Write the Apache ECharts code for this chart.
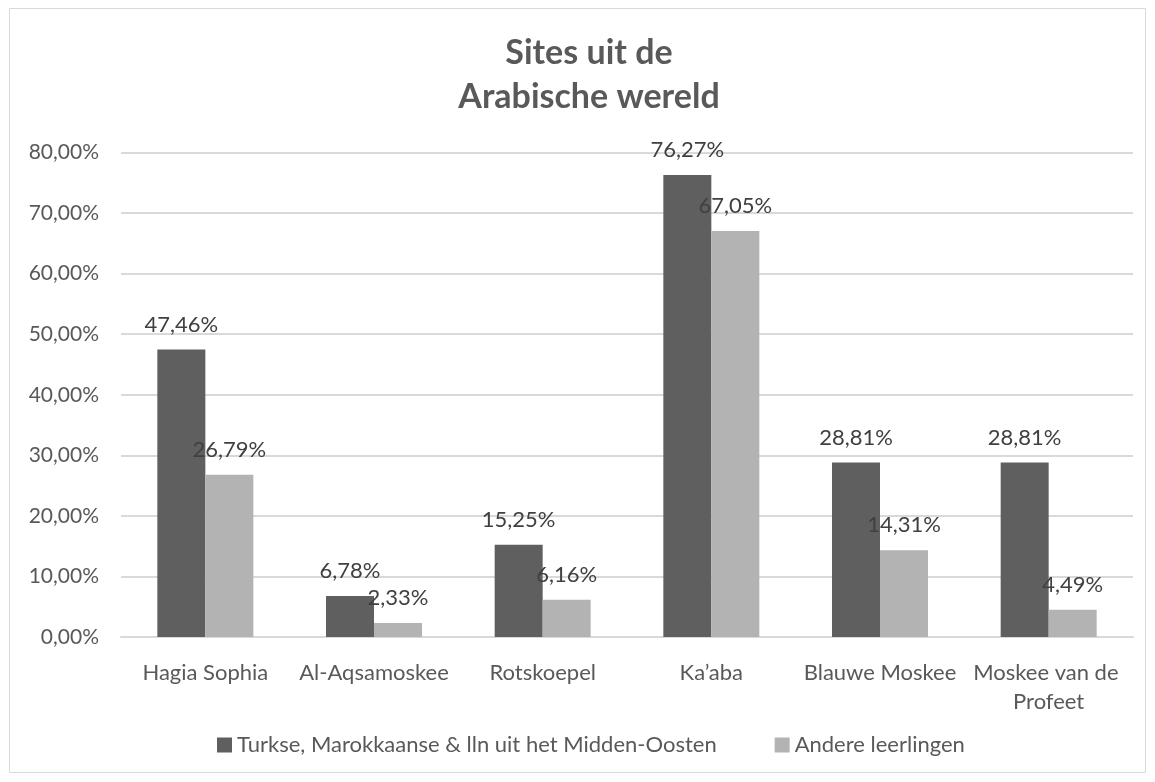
<!DOCTYPE html>
<html>
<head>
<meta charset="utf-8">
<script src="https://cdn.jsdelivr.net/npm/echarts@6/dist/echarts.min.js"></script>
<style>
  html, body { margin: 0; padding: 0; background: #fff; }
  #chart { width: 1155px; height: 782px; }
</style>
</head>
<body>
<div id="chart"></div>
<script>
// data
const categories = ['Hagia Sophia', 'Al-Aqsamoskee', 'Rotskoepel', 'Ka\u2019aba', 'Blauwe Moskee', 'Moskee van de Profeet']
const seriesNames = ['Turkse, Marokkaanse & lln uit het Midden-Oosten', 'Andere leerlingen']
const turksMarokkaans = [47.46, 6.78, 15.25, 76.27, 28.81, 28.81]
const andereLeerlingen = [26.79, 2.33, 6.16, 67.05, 14.31, 4.49]
const yTicks = [0, 10, 20, 30, 40, 50, 60, 70, 80]

const FONT = 'Lato'
const TEXT = '#595959'
const pct = v => v.toFixed(2).replace('.', ',') + '%'

const chart = echarts.init(document.getElementById('chart'))

const barLabel = {
    show: true,
    position: 'top',
    distance: 14,
    color: '#404040',
    fontFamily: FONT,
    fontSize: 22,
    formatter: p => pct(p.value)
}

const option = {
    animation: false,
    textStyle: { fontFamily: FONT },
    title: {
        text: 'Sites uit de\nArabische wereld',
        left: 584,
        textAlign: 'center',
        top: 26,
        textStyle: {
            color: TEXT,
            fontFamily: FONT,
            fontSize: 34,
            fontWeight: 'bold',
            lineHeight: 44
        }
    },
    graphic: [{
        type: 'rect',
        shape: { x: 9.5, y: 8.5, width: 1136, height: 764 },
        style: { fill: 'none', stroke: '#d9d9d9', lineWidth: 1 },
        silent: true
    }],
    grid: {
        top: 152.5,
        left: 121,
        right: 22,
        bottom: 145
    },
    legend: {
        bottom: 21,
        left: 212,
        itemWidth: 15,
        itemHeight: 15,
        itemGap: 58,
        icon: 'rect',
        textStyle: { color: TEXT, fontFamily: FONT, fontSize: 22 },
        data: seriesNames
    },
    xAxis: {
        type: 'category',
        data: categories,
        axisLine: { show: true, lineStyle: { color: '#d9d9d9', width: 2 } },
        axisTick: { show: false },
        axisLabel: {
            color: TEXT,
            fontFamily: FONT,
            fontSize: 22,
            margin: 21,
            lineHeight: 29,
            width: 165,
            overflow: 'break',
            interval: 0
        }
    },
    yAxis: {
        type: 'value',
        min: yTicks[0],
        max: yTicks[yTicks.length - 1],
        interval: 10,
        axisLine: { show: false },
        axisTick: { show: false },
        splitLine: { lineStyle: { color: '#d9d9d9', width: 2 } },
        axisLabel: {
            color: TEXT,
            fontFamily: FONT,
            fontSize: 21,
            margin: 22,
            formatter: v => pct(v)
        }
    },
    series: [
        {
            name: seriesNames[0],
            type: 'bar',
            data: turksMarokkaans,
            barWidth: 48,
            barGap: '0%',
            itemStyle: { color: '#5f5f5f' },
            label: barLabel
        },
        {
            name: seriesNames[1],
            type: 'bar',
            data: andereLeerlingen,
            barWidth: 48,
            barGap: '0%',
            itemStyle: { color: '#b3b3b3' },
            label: barLabel
        }
    ]
}

chart.setOption(option)
</script>
</body>
</html>
